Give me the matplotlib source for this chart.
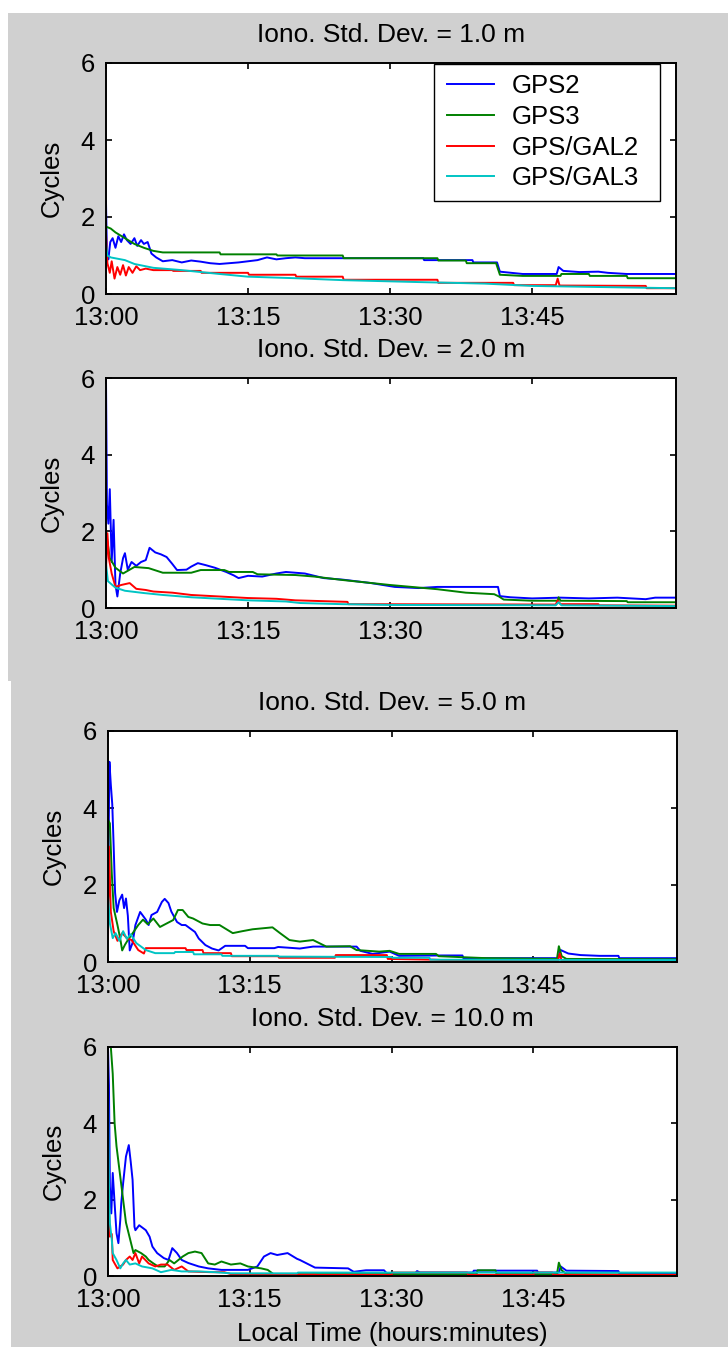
import numpy as np
import matplotlib
matplotlib.use('Agg')
import matplotlib.pyplot as plt
from matplotlib.patches import Rectangle

# (minutes after 13:00, cycles) for each solution type and iono sigma
gps2_1 = [(0, 2.4), (0.1, 1.0), (0.25, 0.9), (0.45, 1.35), (0.7, 1.45), (1.0, 1.2), (1.3, 1.5),
          (1.6, 1.35), (1.9, 1.55), (2.2, 1.4), (2.6, 1.3), (3.0, 1.45), (3.3, 1.25), (3.7, 1.4),
          (4.0, 1.3), (4.4, 1.35), (4.8, 1.05), (5.3, 0.95), (6.0, 0.85), (7.0, 0.88), (8.0, 0.82),
          (9.0, 0.87), (10.0, 0.84), (11.0, 0.8), (12.0, 0.78), (13.0, 0.8), (14.0, 0.82),
          (15.0, 0.85), (16.0, 0.88), (17.0, 0.95), (18.0, 0.9), (19.0, 0.93), (20.0, 0.95),
          (21.0, 0.93), (33.5, 0.93), (33.6, 0.88), (38.7, 0.88), (38.8, 0.82), (41.3, 0.82),
          (41.6, 0.58), (44.0, 0.52), (47.6, 0.52), (47.8, 0.7), (48.3, 0.6), (50.0, 0.57),
          (52.0, 0.58), (53.0, 0.55), (55.0, 0.52), (60.2, 0.52)]
gps3_1 = [(0, 1.75), (0.5, 1.7), (1.0, 1.6), (2.0, 1.45), (3.0, 1.3), (4.0, 1.2), (5.0, 1.12),
          (6.0, 1.08), (12.0, 1.08), (12.1, 1.03), (18.0, 1.03), (18.1, 1.0), (25.0, 1.0),
          (25.1, 0.93), (35.0, 0.93), (35.1, 0.87), (38.0, 0.87), (38.1, 0.8), (41.2, 0.8),
          (41.6, 0.5), (44.0, 0.47), (48.0, 0.47), (48.1, 0.52), (51.0, 0.52), (51.1, 0.47),
          (55.0, 0.47), (55.1, 0.41), (60.2, 0.41)]
gal2_1 = [(0, 1.55), (0.15, 0.8), (0.4, 0.55), (0.6, 0.85), (0.9, 0.4), (1.2, 0.7), (1.5, 0.5),
          (1.8, 0.75), (2.1, 0.48), (2.4, 0.7), (2.8, 0.55), (3.2, 0.72), (3.6, 0.62), (4.2, 0.66),
          (5.0, 0.62), (7.0, 0.62), (7.1, 0.6), (10.0, 0.6), (10.1, 0.55), (15.0, 0.55),
          (15.1, 0.5), (20.0, 0.5), (20.1, 0.45), (25.0, 0.45), (25.1, 0.37), (35.0, 0.37),
          (35.1, 0.29), (43.0, 0.29), (43.1, 0.23), (47.5, 0.23), (47.7, 0.4), (47.9, 0.22),
          (57.0, 0.21), (57.1, 0.15), (60.2, 0.15)]
gal3_1 = [(0, 1.3), (0.15, 1.0), (0.5, 0.95), (2.0, 0.88), (3.0, 0.78), (5.0, 0.68), (8.0, 0.62),
          (12.0, 0.52), (15.0, 0.45), (20.0, 0.41), (25.0, 0.36), (33.0, 0.31), (40.0, 0.27),
          (45.0, 0.21), (50.0, 0.19), (55.0, 0.17), (60.2, 0.15)]

gps2_2 = [(0, 6.0), (0.1, 2.7), (0.25, 2.2), (0.4, 3.1), (0.6, 1.2), (0.8, 2.3), (1.0, 0.6),
          (1.2, 0.3), (1.5, 0.9), (1.8, 1.3), (2.0, 1.43), (2.3, 1.0), (2.7, 1.2), (3.2, 1.1),
          (3.7, 1.2), (4.2, 1.25), (4.6, 1.57), (5.2, 1.45), (5.8, 1.4), (6.4, 1.33), (7.0, 1.15),
          (7.5, 0.99), (8.5, 1.0), (9.0, 1.08), (9.7, 1.17), (10.5, 1.12), (11.5, 1.05),
          (12.7, 0.94), (13.5, 0.85), (14.0, 0.78), (15.0, 0.84), (16.5, 0.82), (18.0, 0.9),
          (19.0, 0.94), (21.0, 0.9), (23.0, 0.78), (25.0, 0.74), (28.0, 0.65), (30.5, 0.55),
          (33.0, 0.52), (35.0, 0.55), (41.4, 0.55), (41.6, 0.31), (42.7, 0.28), (45.0, 0.25),
          (48.0, 0.27), (51.0, 0.25), (54.0, 0.27), (57.0, 0.23), (58.0, 0.27), (60.2, 0.27)]
gps3_2 = [(0, 2.0), (0.4, 1.3), (1.0, 1.05), (1.8, 0.9), (3.0, 1.07), (4.5, 1.04), (6.0, 0.92),
          (9.0, 0.92), (10.0, 0.99), (12.5, 0.99), (13.0, 0.94), (15.5, 0.94), (16.0, 0.88),
          (20.0, 0.86), (22.0, 0.82), (25.0, 0.73), (30.0, 0.6), (35.0, 0.49), (38.0, 0.4),
          (41.0, 0.36), (41.5, 0.3), (42.0, 0.22), (45.0, 0.19), (47.7, 0.19), (47.8, 0.28),
          (48.0, 0.19), (55.0, 0.18), (55.1, 0.15), (60.2, 0.15)]
gal2_2 = [(0, 1.0), (0.15, 1.95), (0.3, 1.3), (0.6, 0.9), (1.0, 0.55), (1.6, 0.6), (2.5, 0.65),
          (3.2, 0.5), (4.2, 0.47), (5.0, 0.43), (7.0, 0.4), (9.0, 0.34), (12.0, 0.3), (15.0, 0.26),
          (18.0, 0.24), (20.0, 0.2), (25.5, 0.16), (25.6, 0.1), (47.5, 0.09), (47.7, 0.2),
          (48.0, 0.1), (52.0, 0.1), (52.1, 0.07), (60.2, 0.06)]
gal3_2 = [(0, 1.15), (0.2, 0.7), (1.0, 0.53), (2.0, 0.45), (4.0, 0.39), (6.0, 0.34), (9.0, 0.28),
          (12.0, 0.24), (15.0, 0.2), (19.0, 0.17), (20.5, 0.13), (25.0, 0.1), (30.0, 0.08),
          (47.5, 0.07), (47.8, 0.15), (48.1, 0.07), (60.2, 0.05)]

gps2_3 = [(0, 1.5), (0.15, 5.2), (0.3, 4.6), (0.45, 4.1), (0.6, 3.0), (0.75, 1.8), (0.95, 1.3),
          (1.2, 1.6), (1.5, 1.75), (1.7, 1.4), (1.9, 1.65), (2.1, 1.2), (2.3, 0.3), (2.6, 0.5),
          (2.9, 0.96), (3.4, 1.3), (4.0, 1.1), (4.3, 0.96), (4.6, 1.22), (5.2, 1.3), (5.7, 1.56),
          (6.0, 1.64), (6.4, 1.53), (6.7, 1.31), (7.3, 1.04), (7.8, 0.96), (8.2, 0.96),
          (8.7, 0.87), (9.2, 0.78), (9.6, 0.61), (10.3, 0.44), (11.0, 0.35), (11.7, 0.3),
          (12.4, 0.42), (14.5, 0.42), (14.8, 0.36), (17.6, 0.36), (18.0, 0.39), (20.3, 0.35),
          (21.7, 0.4), (26.3, 0.4), (26.7, 0.29), (28.0, 0.21), (29.8, 0.27), (30.8, 0.16),
          (35.4, 0.17), (37.5, 0.17), (37.6, 0.1), (47.6, 0.1), (47.9, 0.31), (48.7, 0.22),
          (50.0, 0.18), (52.0, 0.16), (54.0, 0.16), (54.1, 0.1), (60.2, 0.1)]
gps3_3 = [(0, 3.7), (0.2, 3.6), (0.4, 2.3), (0.6, 1.4), (1.0, 0.96), (1.3, 0.6), (1.5, 0.3),
          (1.8, 0.45), (2.1, 0.57), (2.7, 0.78), (3.2, 0.96), (3.7, 1.1), (4.2, 0.98), (4.8, 1.13),
          (5.5, 0.91), (6.2, 1.0), (6.9, 1.09), (7.4, 1.35), (7.9, 1.35), (8.5, 1.17), (9.0, 1.13),
          (10.0, 1.0), (10.8, 0.96), (11.8, 0.96), (13.2, 0.75), (14.2, 0.8), (15.3, 0.85),
          (17.4, 0.9), (18.2, 0.75), (19.2, 0.57), (20.3, 0.53), (21.7, 0.57), (23.1, 0.4),
          (25.6, 0.41), (26.3, 0.31), (28.7, 0.27), (29.8, 0.29), (30.8, 0.21), (34.7, 0.21),
          (35.0, 0.15), (38.0, 0.12), (40.0, 0.1), (47.5, 0.08), (47.7, 0.41), (48.0, 0.15),
          (48.5, 0.08), (60.2, 0.07)]
gal2_3 = [(0, 0.6), (0.1, 3.0), (0.3, 1.3), (0.6, 0.8), (1.0, 0.55), (1.5, 0.75), (2.0, 0.62),
          (2.5, 0.57), (3.2, 0.31), (3.8, 0.22), (4.0, 0.36), (8.2, 0.36), (8.3, 0.31),
          (10.0, 0.31), (10.1, 0.23), (13.0, 0.23), (13.1, 0.15), (18.0, 0.15), (18.1, 0.11),
          (24.0, 0.11), (24.1, 0.18), (29.5, 0.18), (29.6, 0.08), (34.4, 0.06), (37.5, 0.03),
          (47.6, 0.03), (47.8, 0.22), (48.0, 0.03), (60.2, 0.03)]
gal3_3 = [(0, 1.75), (0.2, 1.0), (0.5, 0.62), (0.8, 0.75), (1.2, 0.55), (1.6, 0.8), (2.0, 0.6),
          (2.4, 0.72), (3.0, 0.49), (4.0, 0.31), (5.0, 0.23), (7.0, 0.23), (7.1, 0.26),
          (9.0, 0.26), (9.1, 0.2), (12.0, 0.2), (12.1, 0.16), (18.0, 0.16), (18.1, 0.14),
          (30.0, 0.13), (30.1, 0.11), (34.0, 0.11), (34.1, 0.06), (60.2, 0.05)]

gps2_4 = [(0, 6.0), (0.1, 5.0), (0.2, 2.34), (0.35, 1.64), (0.5, 2.7), (0.7, 1.9), (0.9, 1.12),
          (1.1, 0.86), (1.3, 1.47), (1.4, 1.9), (1.6, 2.43), (1.9, 3.13), (2.2, 3.43), (2.4, 3.0),
          (2.6, 2.52), (2.8, 1.29), (2.9, 1.2), (3.3, 1.33), (4.0, 1.2), (4.4, 1.03), (4.7, 0.77),
          (5.2, 0.6), (5.9, 0.47), (6.4, 0.42), (6.8, 0.73), (7.3, 0.6), (7.8, 0.42), (8.5, 0.34),
          (9.6, 0.25), (10.6, 0.2), (12.0, 0.16), (14.8, 0.16), (15.8, 0.25), (16.5, 0.51),
          (17.2, 0.6), (17.9, 0.55), (19.0, 0.6), (20.0, 0.45), (20.3, 0.42), (21.9, 0.22),
          (25.4, 0.2), (26.0, 0.11), (27.3, 0.15), (29.2, 0.15), (29.5, 0.07), (32.5, 0.07),
          (32.7, 0.13), (33.0, 0.09), (38.6, 0.09), (38.7, 0.14), (45.4, 0.14), (45.5, 0.09),
          (47.7, 0.09), (47.9, 0.25), (48.5, 0.14), (54.0, 0.13), (54.1, 0.07), (60.2, 0.07)]
gps3_4 = [(0, 6.5), (0.3, 6.0), (0.5, 5.3), (0.7, 4.0), (0.9, 3.4), (1.1, 3.0), (1.3, 2.6),
          (1.5, 2.2), (1.7, 1.8), (1.9, 1.4), (2.2, 1.1), (2.5, 0.8), (2.7, 0.6), (2.9, 0.68),
          (3.5, 0.6), (4.0, 0.51), (4.3, 0.42), (4.8, 0.33), (5.3, 0.25), (6.0, 0.25), (6.5, 0.42),
          (7.0, 0.33), (7.9, 0.51), (8.5, 0.6), (9.2, 0.64), (9.9, 0.6), (10.6, 0.33),
          (11.3, 0.3), (12.0, 0.38), (13.0, 0.3), (14.0, 0.33), (14.8, 0.25), (16.2, 0.2),
          (16.9, 0.16), (17.5, 0.05), (39.0, 0.05), (39.1, 0.15), (41.0, 0.15), (41.1, 0.05),
          (47.5, 0.05), (47.7, 0.35), (48.0, 0.15), (48.5, 0.05), (60.2, 0.03)]
gal2_4 = [(0, 2.25), (0.1, 1.7), (0.2, 1.03), (0.4, 1.1), (0.5, 0.42), (0.7, 0.33), (1.0, 0.2),
          (1.3, 0.25), (1.6, 0.3), (1.9, 0.42), (2.3, 0.51), (2.6, 0.42), (2.9, 0.6), (3.3, 0.33),
          (3.6, 0.51), (4.3, 0.33), (5.0, 0.25), (5.6, 0.3), (6.3, 0.3), (7.0, 0.16), (7.8, 0.25),
          (8.5, 0.12), (9.6, 0.11), (10.9, 0.1), (12.3, 0.1), (13.0, 0.05), (18.0, 0.04),
          (22.0, 0.04), (22.1, 0.03), (30.0, 0.03), (30.1, 0.09), (38.0, 0.09), (38.1, 0.03),
          (45.0, 0.03), (45.1, 0.09), (47.0, 0.09), (47.1, 0.03), (60.2, 0.03)]
gal3_4 = [(0, 4.9), (0.1, 2.4), (0.2, 1.38), (0.4, 0.95), (0.5, 0.6), (0.9, 0.42), (1.3, 0.2),
          (1.6, 0.33), (1.9, 0.42), (2.3, 0.3), (2.9, 0.33), (3.6, 0.25), (4.7, 0.2), (5.6, 0.1),
          (6.7, 0.16), (7.8, 0.12), (9.6, 0.12), (11.3, 0.1), (13.0, 0.07), (20.0, 0.07),
          (20.1, 0.09), (60.2, 0.09)]

sigmas = ['1.0', '2.0', '5.0', '10.0']
labels = ['GPS2', 'GPS3', 'GPS/GAL2', 'GPS/GAL3']
colors = ['#0000ff', '#008000', '#ff0000', '#00c4c4']
panels = [[gps2_1, gps3_1, gal2_1, gal3_1],
          [gps2_2, gps3_2, gal2_2, gal3_2],
          [gps2_3, gps3_3, gal2_3, gal3_3],
          [gps2_4, gps3_4, gal2_4, gal3_4]]
tick_min = [0, 15, 30, 45]
tick_lbl = ['13:00', '13:15', '13:30', '13:45']

plt.rcParams['font.family'] = ['Liberation Sans', 'DejaVu Sans']
plt.rcParams['font.size'] = 18.5
plt.rcParams['axes.linewidth'] = 1.4
plt.rcParams['xtick.direction'] = 'in'
plt.rcParams['ytick.direction'] = 'in'
plt.rcParams['xtick.top'] = True
plt.rcParams['ytick.right'] = True
plt.rcParams['xtick.major.size'] = 4
plt.rcParams['ytick.major.size'] = 4
plt.rcParams['xtick.major.width'] = 1.2
plt.rcParams['ytick.major.width'] = 1.2
plt.rcParams['xtick.major.pad'] = 8.5
plt.rcParams['ytick.major.pad'] = 8

W, H = 728, 1347
fig = plt.figure(figsize=(W / 100, H / 100), dpi=100, facecolor='white')

# grey window backgrounds (two stacked figure windows)
grey = '#d0d0d0'
fig.patches.append(Rectangle((8 / W, 1 - 681 / H), 1, (681 - 13) / H, transform=fig.transFigure,
                             facecolor=grey, edgecolor='none', zorder=-5))
fig.patches.append(Rectangle((11 / W, 0), 1, 1 - 681 / H, transform=fig.transFigure,
                             facecolor=grey, edgecolor='none', zorder=-5))

# axes boxes in pixels: left, top, right, bottom
boxes = [(106, 63, 676, 294), (106, 378, 676, 608), (108, 731, 677, 962), (108, 1047, 677, 1276)]

for i, (l, t, r, b) in enumerate(boxes):
    ax = fig.add_axes([l / W, 1 - b / H, (r - l) / W, (b - t) / H])
    ax.set_facecolor('white')
    for series, c, lab in zip(panels[i], colors, labels):
        d = np.array(series)
        ax.plot(d[:, 0], d[:, 1], color=c, lw=1.4, label=lab)
    ax.set_xlim(0, 60.2)
    ax.set_ylim(0, 6)
    ax.set_yticks([0, 2, 4, 6])
    ax.set_xticks(tick_min)
    ax.set_xticklabels(tick_lbl)
    ax.set_title('Iono. Std. Dev. = %s m' % sigmas[i], fontsize=19, pad=15)
    ax.set_ylabel('Cycles')
    ax.yaxis.set_label_coords(-0.075, 0.5)
    if i == 0:
        # legend box drawn separately so its extent can be set freely
        ax.add_patch(Rectangle((0.5754, 0.4026), 0.9719 - 0.5754, 0.9957 - 0.4026,
                               transform=ax.transAxes, facecolor='white', edgecolor='black',
                               lw=1.0, zorder=4))
        leg = ax.legend(loc='upper left', bbox_to_anchor=(0.5754, 1.009), borderaxespad=0,
                        frameon=False, handlelength=1.8, handletextpad=0.7,
                        labelspacing=0.26, borderpad=0.52, fontsize=18.5)
        leg.set_zorder(5)
    if i == 3:
        ax.set_xlabel('Local Time (hours:minutes)', labelpad=7)

fig.savefig('out.png', dpi=100, facecolor=fig.get_facecolor())
